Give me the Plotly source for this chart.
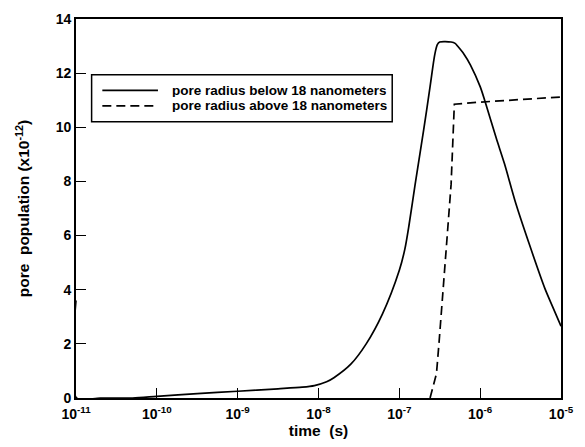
import plotly.graph_objects as go

# ---- data ----
time_below = [1.0e-11, 1.02e-11, 2.0e-11, 5.0e-11, 1.0e-10, 3.16e-10, 1.0e-9, 3.16e-9, 6.3e-9,
              8.9e-9, 1.26e-8, 1.55e-8, 2.51e-8, 3.89e-8, 6.17e-8, 1.0e-7, 1.17e-7, 1.32e-7,
              1.57e-7, 2.0e-7, 2.4e-7, 2.75e-7, 2.95e-7, 3.16e-7, 4.37e-7, 4.9e-7, 5.25e-7,
              6.31e-7, 7.59e-7, 1.0e-6, 1.15e-6, 1.58e-6, 2.0e-6, 2.75e-6, 3.98e-6, 6.31e-6,
              7.94e-6, 1.0e-5]
pop_below = [3.6, 0.0, 0.0, 0.0, 0.06, 0.16, 0.25, 0.34, 0.40,
             0.46, 0.6, 0.75, 1.25, 2.0, 3.1, 4.72, 5.5, 6.4,
             7.9, 9.9, 11.5, 12.7, 13.05, 13.15, 13.15, 13.1, 13.0,
             12.7, 12.3, 11.5, 10.95, 9.6, 8.65, 7.2, 5.75, 4.05,
             3.35, 2.65]

time_above = [2.4e-7, 2.51e-7, 2.75e-7, 2.88e-7, 3.09e-7, 3.31e-7, 3.55e-7, 3.80e-7,
              4.37e-7, 4.79e-7, 1.0e-6, 3.16e-6, 1.0e-5]
pop_above = [0.0, 0.2, 0.6, 0.9, 2.0, 3.1, 4.3, 5.5,
             7.9, 10.85, 10.93, 11.02, 11.12]

series_names = ["pore radius below 18 nanometers", "pore radius above 18 nanometers"]
x_tickvals = [1e-11, 1e-10, 1e-9, 1e-8, 1e-7, 1e-6, 1e-5]
x_ticktext = ["10<sup>-11</sup>", "10<sup>-10</sup>", "10<sup>-9</sup>", "10<sup>-8</sup>",
              "10<sup>-7</sup>", "10<sup>-6</sup>", "10<sup>-5</sup>"]
y_tickvals = [0, 2, 4, 6, 8, 10, 12, 14]
y_ticktext = ["0", "2", "4", "6", "8", "10", "12", "14"]

FONT = "Liberation Sans"

fig = go.Figure()
fig.add_trace(go.Scatter(x=time_below, y=pop_below, mode="lines", name=series_names[0],
                         line=dict(color="black", width=1.7, shape="spline", smoothing=0.8),
                         showlegend=False))
fig.add_trace(go.Scatter(x=time_above, y=pop_above, mode="lines", name=series_names[1],
                         line=dict(color="black", width=1.7, dash="9px,5px"), showlegend=False))

# ---- hand-drawn legend box (paper coordinates) ----
legend_rows = [0.8119, 0.7706]
fig.add_shape(type="rect", xref="paper", yref="paper", x0=0.0322, x1=0.652, y0=0.729, y1=0.853,
              line=dict(color="black", width=1.5), fillcolor="white", layer="above")
fig.add_shape(type="line", xref="paper", yref="paper", x0=0.0543, x1=0.169,
              y0=legend_rows[0], y1=legend_rows[0], line=dict(color="black", width=1.7))
fig.add_shape(type="line", xref="paper", yref="paper", x0=0.0543, x1=0.169,
              y0=legend_rows[1], y1=legend_rows[1],
              line=dict(color="black", width=1.7, dash="9px,5px"))
for name, yy in zip(series_names, legend_rows):
    fig.add_annotation(xref="paper", yref="paper", x=0.195, y=yy, text=name, showarrow=False,
                       xanchor="left", yanchor="middle", height=13, borderpad=0,
                       font=dict(family=FONT, size=13.5, color="black", weight="bold"))

axis_common = dict(showline=True, linecolor="black", linewidth=1.6, mirror=True,
                   ticks="inside", ticklen=10, tickwidth=1.4, tickcolor="black",
                   showgrid=False, zeroline=False, ticklabeloverflow="allow",
                   tickfont=dict(family=FONT, size=14, color="black", weight="bold"))

fig.update_layout(
    width=585, height=447, autosize=False,
    margin=dict(l=76, r=12, t=11, b=48),
    paper_bgcolor="white", plot_bgcolor="white",
    xaxis=dict(type="log", range=[-11, -5], tickvals=x_tickvals, ticktext=x_ticktext,
               ticklabelstandoff=2,
               title=dict(text="time&nbsp; (s)", standoff=4,
                          font=dict(family=FONT, size=15.5, color="black", weight="bold")),
               **axis_common),
    yaxis=dict(range=[0, 14], tickvals=y_tickvals, ticktext=y_ticktext,
               title=dict(text="pore&nbsp; population (x10<sup>-12</sup>)", standoff=22,
                          font=dict(family=FONT, size=15.5, color="black", weight="bold")),
               **axis_common),
)

fig.write_html("out.html", config={"displayModeBar": False},
               post_script="document.body.style.margin='0';")
